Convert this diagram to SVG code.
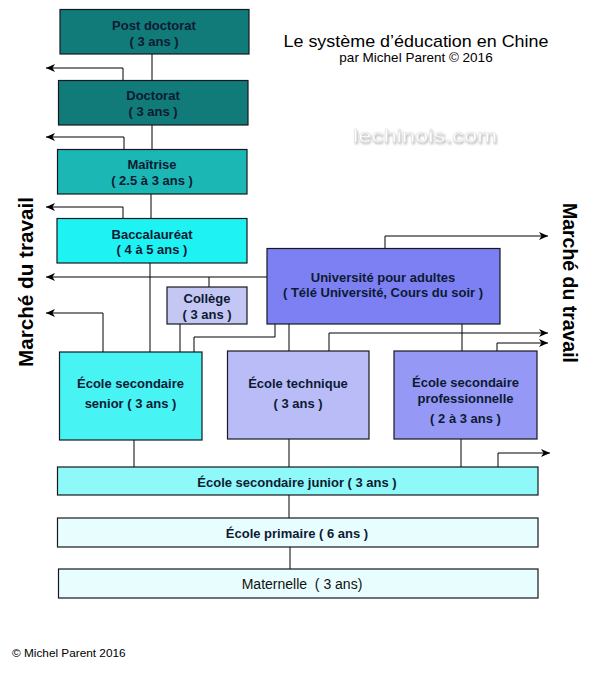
<svg xmlns="http://www.w3.org/2000/svg" width="598" height="673" viewBox="0 0 598 673">
<style>
.box{stroke:#15181f;stroke-width:1.2}
.t{font-family:"Liberation Sans",Arial,sans-serif;font-weight:bold;font-size:13px;fill:#0d1a33;text-anchor:middle}
.r{font-family:"Liberation Sans",Arial,sans-serif;font-size:14px;fill:#111;text-anchor:middle}
.c{fill:none;stroke:#000;stroke-width:1}
.side{font-family:"Liberation Sans",Arial,sans-serif;font-weight:bold;font-size:20.5px;fill:#000;text-anchor:middle}
</style>
<defs>
<marker id="ah" markerUnits="userSpaceOnUse" markerWidth="10" markerHeight="9" refX="9" refY="4" orient="auto">
<path d="M0,0 L9,4 L0,8 L2.5,4 z" fill="#000"/>
</marker>
<filter id="emboss" x="-10%" y="-40%" width="120%" height="180%">
<feGaussianBlur in="SourceAlpha" stdDeviation="1.1" result="b"/>
<feOffset in="b" dx="1" dy="2" result="o"/>
<feColorMatrix in="o" type="matrix" values="0 0 0 0 0.45  0 0 0 0 0.45  0 0 0 0 0.45  0 0 0 0.9 0" result="s"/>
<feMerge><feMergeNode in="s"/><feMergeNode in="SourceGraphic"/></feMerge>
</filter>
</defs>
<rect width="598" height="673" fill="#fff"/>

<g id="title">
<text x="416" y="47" font-family="Liberation Sans,Arial,sans-serif" font-size="17" fill="#000" text-anchor="middle" textLength="265" lengthAdjust="spacingAndGlyphs">Le système d’éducation en Chine</text>
<text x="416" y="62" font-family="Liberation Sans,Arial,sans-serif" font-size="13.5" fill="#000" text-anchor="middle">par Michel Parent © 2016</text>
</g>
<g id="watermark">
<text x="425" y="142" font-family="Liberation Sans,Arial,sans-serif" font-size="19" fill="#ffffff" stroke="#dcdcdc" stroke-width="0.4" text-anchor="middle" textLength="144" lengthAdjust="spacingAndGlyphs" filter="url(#emboss)">lechinois.com</text>
</g>

<g id="connectors">
<path class="c" d="M152,54 V80"/>
<path class="c" d="M152,125 V149"/>
<path class="c" d="M151,194 V218"/>
<path class="c" d="M150,263 V352"/>
<path class="c" d="M209,277 V287"/>
<path class="c" d="M180,324 V352"/>
<path class="c" d="M275,324 V337 H194 V352"/>
<path class="c" d="M289,324 V351"/>
<path class="c" d="M462,324 V351"/>
<path class="c" d="M134,440 V467"/>
<path class="c" d="M289,439 V467"/>
<path class="c" d="M461,439 V467"/>
<path class="c" d="M289,495 V518"/>
<path class="c" d="M290,547 V569"/>
<path class="c" d="M123,80 V68 H46" marker-end="url(#ah)"/>
<path class="c" d="M124,149 V137 H46" marker-end="url(#ah)"/>
<path class="c" d="M123,218 V207 H46" marker-end="url(#ah)"/>
<path class="c" d="M267,277 H46" marker-end="url(#ah)"/>
<path class="c" d="M103,352 V313 H46" marker-end="url(#ah)"/>
<path class="c" d="M385,248 V236 H548" marker-end="url(#ah)"/>
<path class="c" d="M329,351 V333 H548" marker-end="url(#ah)"/>
<path class="c" d="M497,351 V343 H548" marker-end="url(#ah)"/>
<path class="c" d="M498,467 V453 H550" marker-end="url(#ah)"/>
</g>

<g id="postdoctorat">
<rect class="box" x="60" y="9.5" width="189" height="44.5" fill="#107b78"/>
<text class="t" x="154" y="30">Post doctorat</text>
<text class="t" x="154" y="46">( 3 ans )</text>
</g>
<g id="doctorat">
<rect class="box" x="58.5" y="80.5" width="189.5" height="44.5" fill="#107b78"/>
<text class="t" x="153" y="100">Doctorat</text>
<text class="t" x="153" y="116">( 3 ans )</text>
</g>
<g id="maitrise">
<rect class="box" x="57.5" y="149.5" width="189.5" height="44.5" fill="#1ab7b5"/>
<text class="t" x="152" y="169">Maîtrise</text>
<text class="t" x="152" y="185">( 2.5 à 3 ans )</text>
</g>
<g id="baccalaureat">
<rect class="box" x="57" y="218.5" width="190" height="44.5" fill="#1ef2f2"/>
<text class="t" x="152" y="239">Baccalauréat</text>
<text class="t" x="152" y="254">( 4 à 5 ans )</text>
</g>
<g id="college">
<rect class="box" x="167" y="287" width="80" height="37" fill="#c4c7f4"/>
<text class="t" x="207" y="303">Collège</text>
<text class="t" x="207" y="319">( 3 ans )</text>
</g>
<g id="universite">
<rect class="box" x="267" y="248.5" width="233" height="75.5" fill="#7c80f2"/>
<text class="t" x="383" y="282">Université pour adultes</text>
<text class="t" x="383" y="297">( Télé Université, Cours du soir )</text>
</g>
<g id="senior">
<rect class="box" x="59.5" y="352" width="142.5" height="88" fill="#47f3f3"/>
<text class="t" x="130.5" y="388">École secondaire</text>
<text class="t" x="130.5" y="408">senior ( 3 ans )</text>
</g>
<g id="technique">
<rect class="box" x="227.5" y="351" width="141.5" height="88" fill="#babcf8"/>
<text class="t" x="298" y="388">École technique</text>
<text class="t" x="298" y="408">( 3 ans )</text>
</g>
<g id="professionnelle">
<rect class="box" x="394" y="351" width="143" height="88" fill="#9598f4"/>
<text class="t" x="465.5" y="387">École secondaire</text>
<text class="t" x="465.5" y="403">professionnelle</text>
<text class="t" x="465.5" y="423">( 2 à 3 ans )</text>
</g>
<g id="junior">
<rect class="box" x="57.5" y="467" width="480.5" height="28" fill="#8ff8f8"/>
<text class="t" x="297" y="487">École secondaire junior ( 3 ans )</text>
</g>
<g id="primaire">
<rect class="box" x="57.5" y="518" width="480.5" height="29" fill="#e8fdfd"/>
<text class="t" x="297" y="538">École primaire ( 6 ans )</text>
</g>
<g id="maternelle">
<rect class="box" x="58.5" y="569" width="479.5" height="29" fill="#e8fdfd"/>
<text class="r" x="302" y="589" xml:space="preserve">Maternelle  ( 3 ans)</text>
</g>

<g id="labels">
<text class="side" transform="translate(33,282) rotate(-90)" textLength="170" lengthAdjust="spacingAndGlyphs">Marché du travail</text>
<text class="side" transform="translate(563,283) rotate(90)" textLength="160" lengthAdjust="spacingAndGlyphs">Marché du travail</text>
<text x="12" y="657" font-family="Liberation Sans,Arial,sans-serif" font-size="11.8" fill="#000">© Michel Parent 2016</text>
</g>
</svg>
